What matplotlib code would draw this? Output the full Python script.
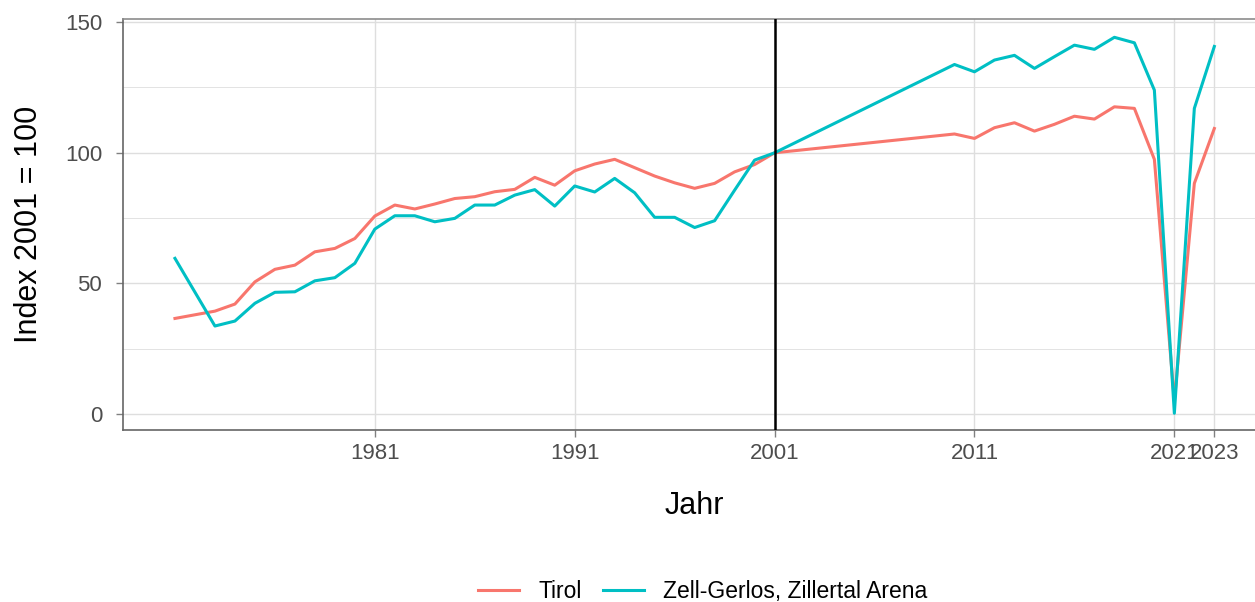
import matplotlib
matplotlib.use('Agg')
import matplotlib.pyplot as plt
from matplotlib.lines import Line2D

plt.rcParams['font.family'] = ['Liberation Sans', 'DejaVu Sans']

# data (index 2001 = 100)
jahre = [1971, 1973, 1974, 1975, 1976, 1977, 1978, 1979, 1980,
         1981, 1982, 1983, 1984, 1985, 1986, 1987, 1988, 1989, 1990,
         1991, 1992, 1993, 1994, 1995, 1996, 1997, 1998, 1999, 2000,
         2001, 2010, 2011, 2012, 2013, 2014, 2015, 2016, 2017, 2018,
         2019, 2020, 2021, 2022, 2023]
tirol = [36.6, 39.4, 42.1, 50.6, 55.4, 57.0, 62.1, 63.4, 67.2,
         75.8, 80.0, 78.5, 80.4, 82.5, 83.2, 85.1, 86.0, 90.6, 87.6,
         93.1, 95.7, 97.5, 94.3, 91.1, 88.5, 86.4, 88.3, 92.7, 95.5,
         100.0, 107.2, 105.5, 109.6, 111.5, 108.3, 110.9, 114.0, 112.9, 117.6,
         117.0, 97.5, 5.0, 88.3, 109.3]
zell = [59.6, 33.7, 35.6, 42.4, 46.6, 46.8, 51.0, 52.2, 57.7,
        70.8, 75.9, 75.9, 73.6, 74.9, 80.0, 80.0, 83.8, 85.9, 79.6,
        87.3, 85.0, 90.2, 84.7, 75.3, 75.3, 71.4, 74.0, 85.7, 97.2,
        100.0, 133.8, 131.0, 135.5, 137.3, 132.3, 136.8, 141.2, 139.6, 144.2,
        142.1, 124.0, 0.3, 117.0, 140.7]
namen = ['Tirol', 'Zell-Gerlos, Zillertal Arena']
farben = ['#F8766D', '#00BFC4']
x_ticks = [1981, 1991, 2001, 2011, 2021, 2023]
y_ticks = [0, 50, 100, 150]

fig = plt.figure(figsize=(12.55, 6.02), dpi=100)
ax = fig.add_axes([0.098, 0.2857, 0.911, 0.6827])

for ticks, w in [([25, 75, 125], 0.6), (y_ticks, 1.0)]:
    for t in ticks:
        ax.axhline(t, color='#dedede', lw=w, zorder=0)
for t in x_ticks:
    ax.axvline(t, color='#dedede', lw=1.0, zorder=0)

ax.plot(jahre, tirol, color=farben[0], lw=2.2, zorder=2)
ax.plot(jahre, zell, color=farben[1], lw=2.2, zorder=3)
ax.axvline(2001, color='black', lw=1.8, zorder=4)

ax.set_xlim(1968.4, 2025.6)
ax.set_ylim(-6.1, 151.2)
ax.set_xticks(x_ticks)
ax.set_yticks(y_ticks)
ax.tick_params(axis='both', labelsize=16, labelcolor='#4d4d4d', color='#808080',
               length=5, width=1.0)
ax.tick_params(axis='x', pad=4)
ax.tick_params(axis='y', pad=10)
for s in ax.spines.values():
    s.set_color('#8c8c8c')
    s.set_linewidth(1.2)
ax.spines['left'].set_color('#666666')
ax.spines['bottom'].set_color('#666666')

ax.set_xlabel('Jahr', fontsize=22, labelpad=20)
ax.set_ylabel('Index 2001 = 100', fontsize=22, labelpad=15)

handles = [Line2D([], [], color=c, lw=2.2) for c in farben]
fig.legend(handles, namen, loc='center', bbox_to_anchor=(0.56, 0.017), ncol=2,
           frameon=False, fontsize=16.5, handlelength=1.8, columnspacing=0.9,
           handletextpad=0.85)

fig.savefig('out.png', dpi=100)
